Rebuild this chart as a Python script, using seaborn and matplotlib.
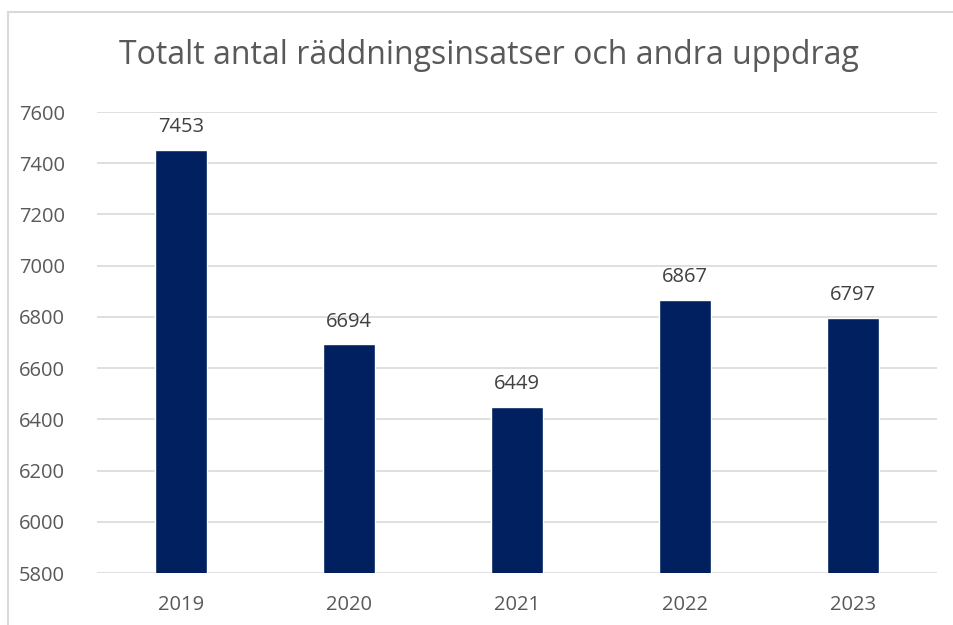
import matplotlib
matplotlib.use("Agg")
import matplotlib.pyplot as plt
import seaborn as sns
import pandas as pd
from matplotlib.patches import Rectangle

# Data
years = ["2019", "2020", "2021", "2022", "2023"]
insatser = [7453, 6694, 6449, 6867, 6797]
y_ticks = [5800, 6000, 6200, 6400, 6600, 6800, 7000, 7200, 7400, 7600]

title = "Totalt antal räddningsinsatser och andra uppdrag"

sns.set_theme(style="white")
plt.rcParams["font.family"] = ["Open Sans", "DejaVu Sans"]

df = pd.DataFrame({"year": years, "value": insatser})

fig = plt.figure(figsize=(9.54, 6.25), dpi=100)
ax = fig.add_axes([97 / 954, 1 - 573 / 625, 840 / 954, 461 / 625])

sns.barplot(data=df, x="year", y="value", color="#002060", width=0.315,
            saturation=1, ax=ax, zorder=3)

ax.set_ylim(5800, 7600)
ax.set_yticks(y_ticks)
ax.set_xlim(-0.5, 4.5)
ax.yaxis.grid(True, color="#d9d9d9", linewidth=1.2, zorder=0)
for s in ax.spines.values():
    s.set_visible(False)
ax.set_xlabel("")
ax.set_ylabel("")
ax.tick_params(axis="both", length=0, labelsize=14.5, labelcolor="#595959")
ax.tick_params(axis="y", pad=23)
ax.tick_params(axis="x", pad=16)

for c in ax.containers:
    ax.bar_label(c, labels=[str(v) for v in insatser], padding=9,
                 fontsize=14.5, color="#404040")

fig.text(489 / 954, 1 - 56 / 625, title, ha="center", va="center",
         fontsize=23, color="#595959")

# outer chart frame (only top/left visible in reference)
fig.patches.append(Rectangle((8 / 954, -0.1), 1.2, 1 - 12 / 625 + 0.1,
                             transform=fig.transFigure, fill=False,
                             edgecolor="#d9d9d9", linewidth=1.5))

fig.savefig("out.png", dpi=100)
